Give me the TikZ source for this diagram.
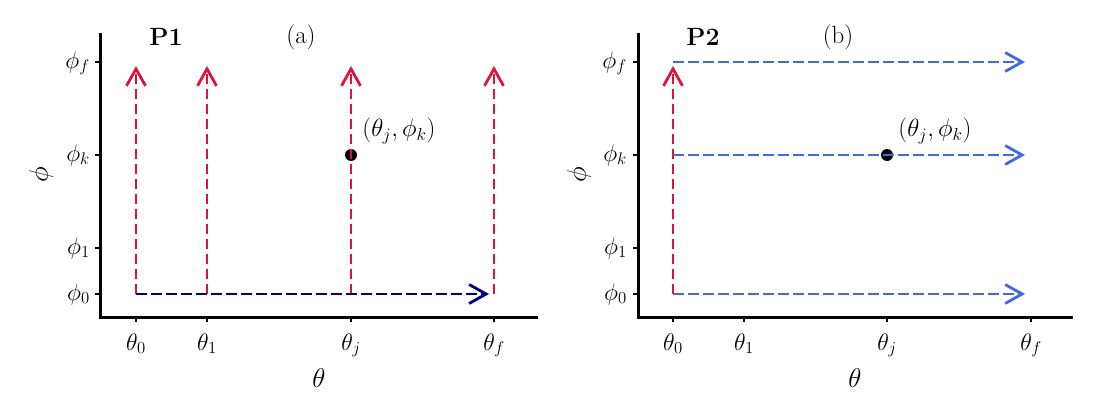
\RequirePackage{fix-cm}
\documentclass[tikz,border=0pt]{standalone}
\usetikzlibrary{arrows.meta}
\definecolor{cred}{RGB}{220,20,60}
\definecolor{cnavy}{RGB}{0,0,128}
\definecolor{croyal}{RGB}{65,105,225}
\begin{document}
\begin{tikzpicture}[x=1pt,y=-1pt,
  lbl/.style={font=\fontsize{24}{28}\selectfont, inner sep=0pt},
  ptl/.style={font=\fontsize{25}{29}\selectfont, inner sep=0pt},
  axl/.style={font=\fontsize{27}{31}\selectfont, inner sep=0pt},
  ttl/.style={font=\fontsize{25}{29}\selectfont, inner sep=0pt},
  axisline/.style={line width=3pt, line join=miter},
  tickmark/.style={line width=1.2pt},
  flow/.style={line width=2.8pt, dash pattern=on 10.5pt off 4.5pt,
    -{Straight Barb[length=17pt,width=19pt,line width=2.8pt]}},
  redflow/.style={flow, draw=cred},
  navyflow/.style={flow, draw=cnavy},
  blueflow/.style={flow, draw=croyal},
  dot/.style={circle, fill=black, inner sep=0pt, minimum size=12pt}]
\useasboundingbox (0,0) rectangle (1100,420);

% ---------------- panel (a) ----------------
\coordinate (Ltop) at (100,33);
\coordinate (Lorig) at (100,317);
\coordinate (Lright) at (538,317);
\draw[axisline] (Ltop) -- (Lorig) -- (Lright);

\foreach \x/\n/\t in {136/0/{\theta_0},207/1/{\theta_1},351/j/{\theta_j},494/f/{\theta_f}}{
  \coordinate (Lxt\n) at (\x,317);
  \coordinate (Lxb\n) at (\x,322);
  \draw[tickmark] (Lxt\n) -- (Lxb\n);
  \node[lbl, anchor=base] (Lxl\n) at (\x,350) {$\t$};
}
\foreach \y/\n/\t in {62/f/{\phi_f},155/k/{\phi_k},248/1/{\phi_1},294/0/{\phi_0}}{
  \coordinate (Lyr\n) at (100,\y);
  \coordinate (Lyl\n) at (95,\y);
  \draw[tickmark] (Lyr\n) -- (Lyl\n);
  \node[lbl, anchor=base east] (Lyt\n) at (90,\y+6) {$\t$};
}
\node[axl] (Lxlab) at (319,378) {$\theta$};
\node[axl, rotate=90] (Lylab) at (41,175) {$\phi$};
\node[ttl] (P1) at (166,37) {\textbf{P1}};
\node[ttl] (ta) at (301,37) {(a)};

\node[dot] (Ldot) at (351,155) {};
\node[ptl] (Lpt) at (399,131) {$(\theta_j,\phi_k)$};

\coordinate (La0) at (136,294); \coordinate (Lb0) at (136,66);
\coordinate (La1) at (207,294); \coordinate (Lb1) at (207,66);
\coordinate (La2) at (351,294); \coordinate (Lb2) at (351,66);
\coordinate (La3) at (494,294); \coordinate (Lb3) at (494,66);
\coordinate (Lh) at (489,294);
\draw[redflow] (La0) -- (Lb0);
\draw[redflow] (La1) -- (Lb1);
\draw[redflow] (La2) -- (Lb2);
\draw[redflow] (La3) -- (Lb3);
\draw[navyflow] (La0) -- (Lh);

% ---------------- panel (b) ----------------
\coordinate (Rtop) at (638,33);
\coordinate (Rorig) at (638,317);
\coordinate (Rright) at (1073,317);
\draw[axisline] (Rtop) -- (Rorig) -- (Rright);

\foreach \x/\n/\t in {673/0/{\theta_0},744/1/{\theta_1},887/j/{\theta_j},1031/f/{\theta_f}}{
  \coordinate (Rxt\n) at (\x,317);
  \coordinate (Rxb\n) at (\x,322);
  \draw[tickmark] (Rxt\n) -- (Rxb\n);
  \node[lbl, anchor=base] (Rxl\n) at (\x,350) {$\t$};
}
\foreach \y/\n/\t in {62/f/{\phi_f},155/k/{\phi_k},248/1/{\phi_1},294/0/{\phi_0}}{
  \coordinate (Ryr\n) at (638,\y);
  \coordinate (Ryl\n) at (633,\y);
  \draw[tickmark] (Ryr\n) -- (Ryl\n);
  \node[lbl, anchor=base east] (Ryt\n) at (627,\y+6) {$\t$};
}
\node[axl] (Rxlab) at (855,378) {$\theta$};
\node[axl, rotate=90] (Rylab) at (579,175) {$\phi$};
\node[ttl] (P2) at (703,37) {\textbf{P2}};
\node[ttl] (tb) at (838,37) {(b)};

\node[dot] (Rdot) at (887,155) {};
\node[ptl] (Rpt) at (935,131) {$(\theta_j,\phi_k)$};

\coordinate (Rv0) at (673,294); \coordinate (Rv1) at (673,66);
\coordinate (Rs0) at (673,62);  \coordinate (Re0) at (1025,62);
\coordinate (Rs1) at (673,155); \coordinate (Re1) at (1025,155);
\coordinate (Rs2) at (673,294); \coordinate (Re2) at (1025,294);
\draw[redflow] (Rv0) -- (Rv1);
\draw[blueflow] (Rs0) -- (Re0);
\draw[blueflow] (Rs1) -- (Re1);
\draw[blueflow] (Rs2) -- (Re2);
\end{tikzpicture}
\end{document}
